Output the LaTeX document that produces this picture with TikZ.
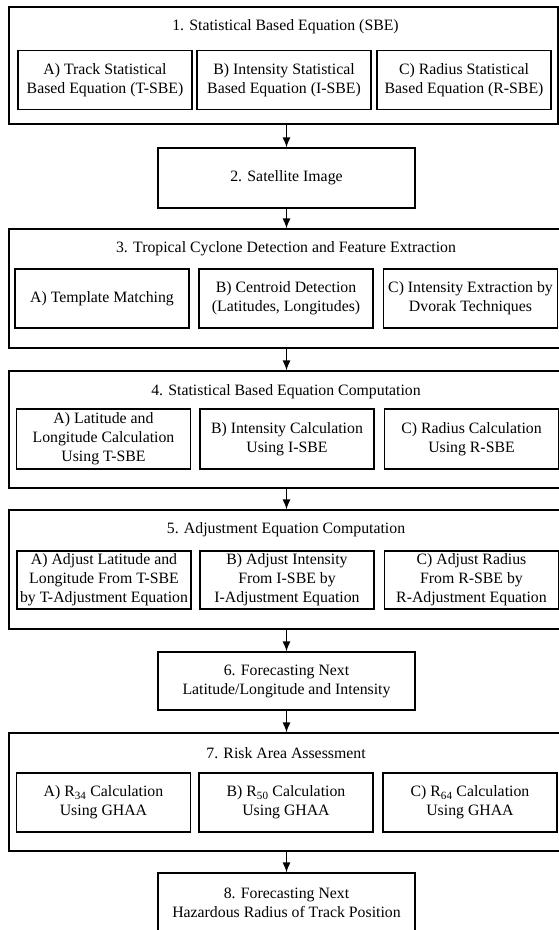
\documentclass[tikz,border=0pt]{standalone}
\usepackage{fontspec}
\setmainfont{Liberation Serif}
\usetikzlibrary{arrows.meta}

\begin{document}
\begin{tikzpicture}[x=1pt, y=-1pt,
    font=\fontsize{15.8}{19}\selectfont,
    outer/.style={draw, rectangle, line width=1.2pt, minimum width=554pt, minimum height=119pt, inner sep=0pt},
    inner/.style={draw, rectangle, line width=1.2pt, minimum width=174pt, minimum height=59pt, inner sep=1pt, align=center},
    single/.style={draw, rectangle, line width=1.2pt, minimum width=257pt, minimum height=59pt, align=center},
    arr/.style={-{Latex[length=10pt,width=8pt]}, line width=1.2pt}]
    \useasboundingbox (0,0) rectangle (559,930);

    % Group 1
    \node[outer, minimum width=549pt, minimum height=117pt] (g1) at (283.5,65.5) {};
    \node (t1) at (285.5,27) {1. Statistical Based Equation (SBE)};
    \node[inner] (g1a) at (105,80) {A) Track Statistical\\Based Equation (T-SBE)};
    \node[inner] (g1b) at (284,80) {B) Intensity Statistical\\Based Equation (I-SBE)};
    \node[inner] (g1c) at (464,80) {C) Radius Statistical\\Based Equation (R-SBE)};

    % Box 2
    \node[single, minimum height=60pt] (b2) at (286.5,178) {2. Satellite Image};

    % Group 3
    \node[outer] (g3) at (286,288.5) {};
    \node (t3) at (286,249) {3. Tropical Cyclone Detection and Feature Extraction};
    \node[inner] (g3a) at (102,298.5) {A) Template Matching};
    \node[inner] (g3b) at (286,298.5) {B) Centroid Detection\\(Latitudes, Longitudes)};
    \node[inner] (g3c) at (470.5,298.5) {C) Intensity Extraction by\\Dvorak Techniques};

    % Group 4
    \node[outer, minimum height=117pt] (g4) at (286,429.5) {};
    \node (t4) at (286,392) {4. Statistical Based Equation Computation};
    \node[inner, minimum height=60pt] (g4a) at (103.5,439) {A) Latitude and\\Longitude Calculation\\Using T-SBE};
    \node[inner, minimum height=60pt] (g4b) at (287,439) {B) Intensity Calculation\\Using I-SBE};
    \node[inner, minimum height=60pt] (g4c) at (471.5,439) {C) Radius Calculation\\Using R-SBE};

    % Group 5
    \node[outer] (g5) at (286,569.5) {};
    \node (t5) at (286,530) {5. Adjustment Equation Computation};
    \node[inner, minimum height=58pt] (g5a) at (104,580) {A) Adjust Latitude and\\Longitude From T-SBE\\by T-Adjustment Equation};
    \node[inner, minimum height=58pt] (g5b) at (287,580) {B) Adjust Intensity\\From I-SBE by\\I-Adjustment Equation};
    \node[inner, minimum height=58pt] (g5c) at (471.5,580) {C) Adjust Radius\\From R-SBE by\\R-Adjustment Equation};

    % Box 6
    \node[single, minimum height=58pt] (b6) at (286.5,681) {6. Forecasting Next\\Latitude/Longitude and Intensity};

    % Group 7
    \node[outer, minimum height=118pt] (g7) at (286,792) {};
    \node (t7) at (286,753) {7. Risk Area Assessment};
    \node[inner] (g7a) at (103.5,802.5) {A) R\textsubscript{34} Calculation\\Using GHAA};
    \node[inner] (g7b) at (286,802.5) {B) R\textsubscript{50} Calculation\\Using GHAA};
    \node[inner] (g7c) at (470,802.5) {C) R\textsubscript{64} Calculation\\Using GHAA};

    % Box 8
    \node[single, minimum height=60pt] (b8) at (286.5,903) {8. Forecasting Next\\Hazardous Radius of Track Position};

    % Arrows
    \draw[arr] (b2.north |- g1.south) -- (b2.north);
    \draw[arr] (b2.south) -- (b2.south |- g3.north);
    \draw[arr] (b2.south |- g3.south) -- (b2.south |- g4.north);
    \draw[arr] (b2.south |- g4.south) -- (b2.south |- g5.north);
    \draw[arr] (b6.north |- g5.south) -- (b6.north);
    \draw[arr] (b6.south) -- (b6.south |- g7.north);
    \draw[arr] (b8.north |- g7.south) -- (b8.north);
\end{tikzpicture}
\end{document}
